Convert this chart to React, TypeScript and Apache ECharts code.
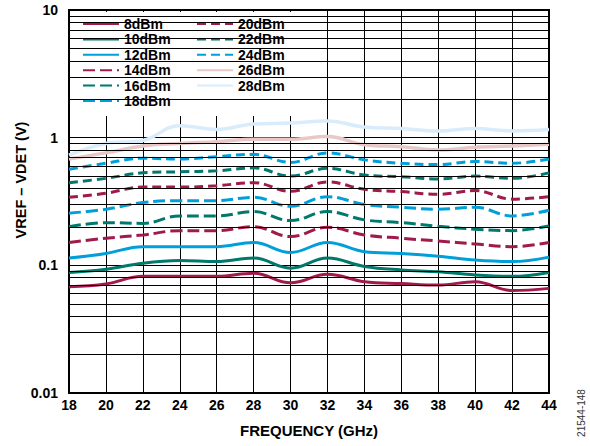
import React, { useEffect, useRef } from "react";
import * as echarts from "echarts";

const freqs = [18, 20, 22, 24, 26, 28, 30, 32, 34, 36, 38, 40, 42, 44];
const p8 = [0.068, 0.0715, 0.082, 0.082, 0.082, 0.0867, 0.073, 0.085, 0.0745, 0.072, 0.07, 0.0745, 0.0634, 0.066];
const p10 = [0.0877, 0.093, 0.104, 0.109, 0.107, 0.114, 0.095, 0.114, 0.098, 0.092, 0.089, 0.084, 0.082, 0.088];
const p12 = [0.114, 0.124, 0.14, 0.14, 0.14, 0.151, 0.126, 0.151, 0.128, 0.124, 0.118, 0.11, 0.107, 0.116];
const p14 = [0.151, 0.163, 0.173, 0.187, 0.187, 0.201, 0.168, 0.199, 0.173, 0.163, 0.155, 0.147, 0.14, 0.151];
const p16 = [0.201, 0.216, 0.213, 0.244, 0.244, 0.264, 0.224, 0.264, 0.227, 0.216, 0.202, 0.192, 0.187, 0.203];
const p18 = [0.256, 0.275, 0.31, 0.321, 0.321, 0.341, 0.29, 0.345, 0.3, 0.285, 0.275, 0.285, 0.244, 0.27];
const p20 = [0.341, 0.367, 0.41, 0.41, 0.42, 0.444, 0.38, 0.45, 0.394, 0.378, 0.36, 0.385, 0.33, 0.345];
const p22 = [0.444, 0.48, 0.53, 0.54, 0.55, 0.58, 0.5, 0.575, 0.51, 0.495, 0.475, 0.5, 0.48, 0.53];
const p24 = [0.565, 0.63, 0.69, 0.68, 0.71, 0.74, 0.64, 0.76, 0.67, 0.63, 0.615, 0.65, 0.63, 0.68];
const p26 = [0.68, 0.76, 0.86, 0.9, 0.93, 0.97, 0.97, 1.02, 0.88, 0.85, 0.8, 0.84, 0.86, 0.89];
const p28 = [0.73, 0.9, 0.95, 1.24, 1.16, 1.28, 1.3, 1.35, 1.21, 1.18, 1.13, 1.18, 1.13, 1.16];

const gridValues = [
  0.02, 0.03, 0.04, 0.05, 0.06, 0.07, 0.08, 0.09,
  0.2, 0.3, 0.4, 0.5, 0.6, 0.7, 0.8, 0.9,
  2, 3, 4, 5, 6, 7, 8, 9,
];

const MAROON = "#a01a4c";
const TEAL = "#00786c";
const CYAN = "#009fda";
const PINK = "#e9c7c7";
const SKY = "#d9ecfb";

const FONT = "'Liberation Sans', Arial, sans-serif";

const seriesDefs = [
  { name: "8dBm", data: p8, color: MAROON, type: "solid" },
  { name: "10dBm", data: p10, color: TEAL, type: "solid" },
  { name: "12dBm", data: p12, color: CYAN, type: "solid" },
  { name: "14dBm", data: p14, color: MAROON, type: [12, 5] },
  { name: "16dBm", data: p16, color: TEAL, type: [12, 5] },
  { name: "18dBm", data: p18, color: CYAN, type: [12, 5] },
  { name: "20dBm", data: p20, color: MAROON, type: [9, 5] },
  { name: "22dBm", data: p22, color: TEAL, type: [9, 5] },
  { name: "24dBm", data: p24, color: CYAN, type: [9, 5] },
  { name: "26dBm", data: p26, color: PINK, type: "solid" },
  { name: "28dBm", data: p28, color: SKY, type: "solid" },
];

export default function App() {
  const ref = useRef<HTMLDivElement>(null);
  useEffect(() => {
    document.body.style.margin = "0";
    if (!ref.current) return;
    const chart = echarts.init(ref.current, undefined, { renderer: "svg" });
    const legendCommon = {
      orient: "vertical",
      top: 17,
      padding: 0,
      itemWidth: 36,
      itemHeight: 4,
      itemGap: 1.4,
      itemStyle: { opacity: 0 },
      textStyle: { fontSize: 14, fontWeight: "bold", color: "#000", fontFamily: FONT },
      selectedMode: false,
      z: 5,
    };
    chart.setOption({
      animation: false,
      grid: { left: 69, right: 41, top: 10, bottom: 53, show: true, borderColor: "#000", borderWidth: 2 },
      xAxis: {
        type: "value",
        min: 18,
        max: 44,
        interval: 2,
        name: "FREQUENCY (GHz)",
        nameLocation: "middle",
        nameGap: 30,
        nameTextStyle: { fontSize: 15, fontWeight: "bold", color: "#000", fontFamily: FONT },
        axisLine: { show: true, lineStyle: { color: "#000", width: 2 } },
        axisTick: { show: false },
        axisLabel: { fontSize: 14, fontWeight: "bold", color: "#000", fontFamily: FONT, margin: 5 },
        splitLine: { show: true, lineStyle: { color: "#000", width: 1 } },
      },
      yAxis: {
        type: "log",
        logBase: 10,
        min: 0.01,
        max: 10,
        axisLine: { show: true, lineStyle: { color: "#000", width: 2 } },
        axisTick: { show: false },
        axisLabel: {
          fontSize: 14,
          fontWeight: "bold",
          color: "#000",
          fontFamily: FONT,
          margin: 11,
          formatter: (v: number) => String(Number(v.toPrecision(3))),
        },
        splitLine: { show: true, lineStyle: { color: "#000", width: 1 } },
      },
      legend: [
        { ...legendCommon, left: 82, data: seriesDefs.slice(0, 6).map((s) => s.name) },
        { ...legendCommon, left: 196, data: seriesDefs.slice(6).map((s) => s.name) },
      ],
      graphic: [
        {
          type: "rect",
          shape: { x: 73, y: 12, width: 222, height: 104 },
          style: { fill: "#fff" },
          z: 3,
          silent: true,
        },
        {
          type: "text",
          x: 21,
          y: 180,
          rotation: Math.PI / 2,
          style: {
            text: "VREF – VDET (V)",
            fontSize: 14.5,
            fontWeight: "bold",
            fill: "#000",
            fontFamily: FONT,
            align: "center",
            verticalAlign: "middle",
          },
        },
        {
          type: "text",
          x: 581,
          y: 413,
          rotation: Math.PI / 2,
          style: {
            text: "21544-148",
            fontSize: 10,
            fill: "#333",
            fontFamily: FONT,
            align: "center",
            verticalAlign: "middle",
          },
        },
      ],
      series: [
        {
          name: "grid",
          type: "line",
          data: [],
          z: 1,
          silent: true,
          markLine: {
            silent: true,
            symbol: ["none", "none"],
            label: { show: false },
            emphasis: { disabled: true },
            lineStyle: { type: "solid", color: "#000", width: 1 },
            data: gridValues.map((v) => ({ yAxis: v })),
          },
        },
        ...seriesDefs.map((s) => ({
          name: s.name,
          type: "line",
          data: freqs.map((f, i) => [f, s.data[i]]),
          smooth: 0.4,
          symbol: "none",
          z: 2,
          lineStyle: { color: s.color, width: s.color === PINK || s.color === SKY ? 3.5 : 3, type: s.type },
          itemStyle: { color: s.color },
          emphasis: { disabled: true },
        })),
      ],
    });
    return () => chart.dispose();
  }, []);
  return <div ref={ref} style={{ width: 590, height: 446 }} />;
}
